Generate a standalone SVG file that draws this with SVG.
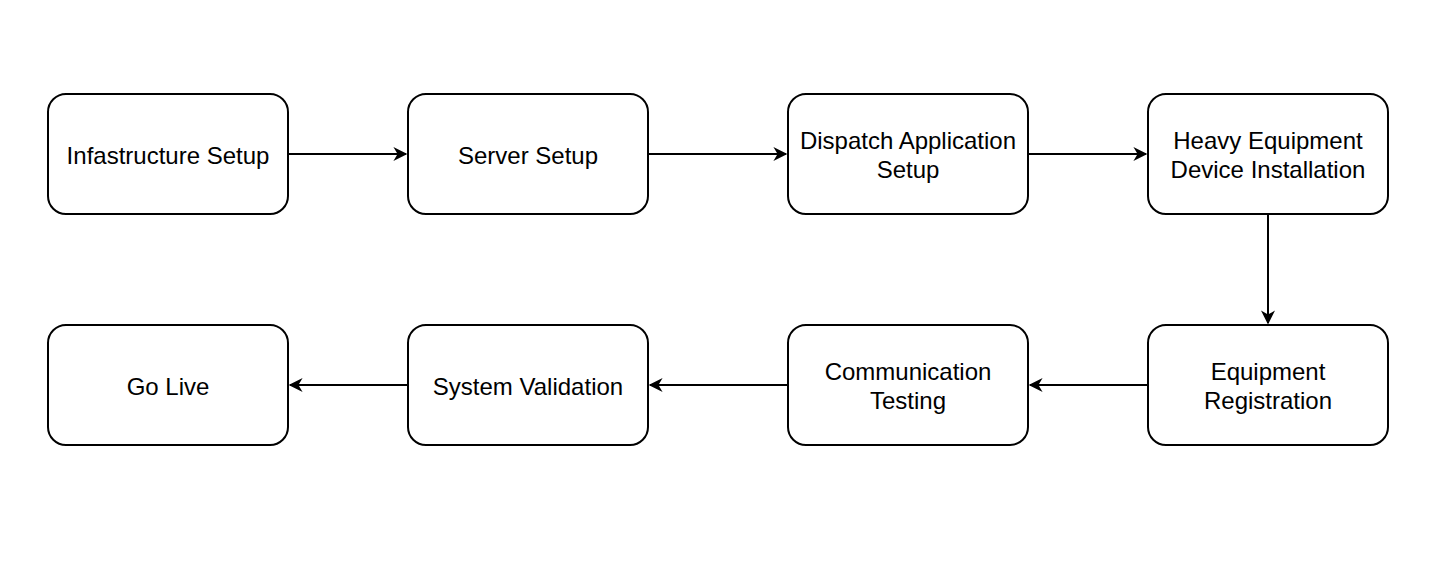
<svg xmlns="http://www.w3.org/2000/svg" width="1446" height="574" viewBox="0 0 1446 574">
<style>
.n{fill:#fff;stroke:#000;stroke-width:2}
text{font-family:"Liberation Sans",Arial,sans-serif;font-size:24px;text-anchor:middle;dominant-baseline:central;fill:#000}
.c{stroke:#000;stroke-width:2;fill:none;marker-end:url(#a)}
</style>
<defs><marker id="a" viewBox="0 0 10 10" refX="9" refY="5" markerWidth="18" markerHeight="14" markerUnits="userSpaceOnUse" orient="auto"><path d="M0,0 L10,5 L0,10 L3,5 Z" fill="#000"/></marker></defs>
<rect width="1446" height="574" fill="#fff"/>
<g id="connectors">
<path class="c" d="M288,154 H406"/>
<path class="c" d="M648,154 H786"/>
<path class="c" d="M1028,154 H1146"/>
<path class="c" d="M1268,214 V323"/>
<path class="c" d="M1148,385 H1030"/>
<path class="c" d="M788,385 H650"/>
<path class="c" d="M408,385 H290"/>
</g>
<g id="n1"><rect class="n" x="48" y="94" width="240" height="120" rx="18"/><text x="168" y="155">Infastructure Setup</text></g>
<g id="n2"><rect class="n" x="408" y="94" width="240" height="120" rx="18"/><text x="528" y="155">Server Setup</text></g>
<g id="n3"><rect class="n" x="788" y="94" width="240" height="120" rx="18"/><text x="908" y="140">Dispatch Application</text><text x="908" y="169">Setup</text></g>
<g id="n4"><rect class="n" x="1148" y="94" width="240" height="120" rx="18"/><text x="1268" y="140">Heavy Equipment</text><text x="1268" y="169">Device Installation</text></g>
<g id="n5"><rect class="n" x="1148" y="325" width="240" height="120" rx="18"/><text x="1268" y="371">Equipment</text><text x="1268" y="400">Registration</text></g>
<g id="n6"><rect class="n" x="788" y="325" width="240" height="120" rx="18"/><text x="908" y="371">Communication</text><text x="908" y="400">Testing</text></g>
<g id="n7"><rect class="n" x="408" y="325" width="240" height="120" rx="18"/><text x="528" y="386">System Validation</text></g>
<g id="n8"><rect class="n" x="48" y="325" width="240" height="120" rx="18"/><text x="168" y="386">Go Live</text></g>
</svg>
